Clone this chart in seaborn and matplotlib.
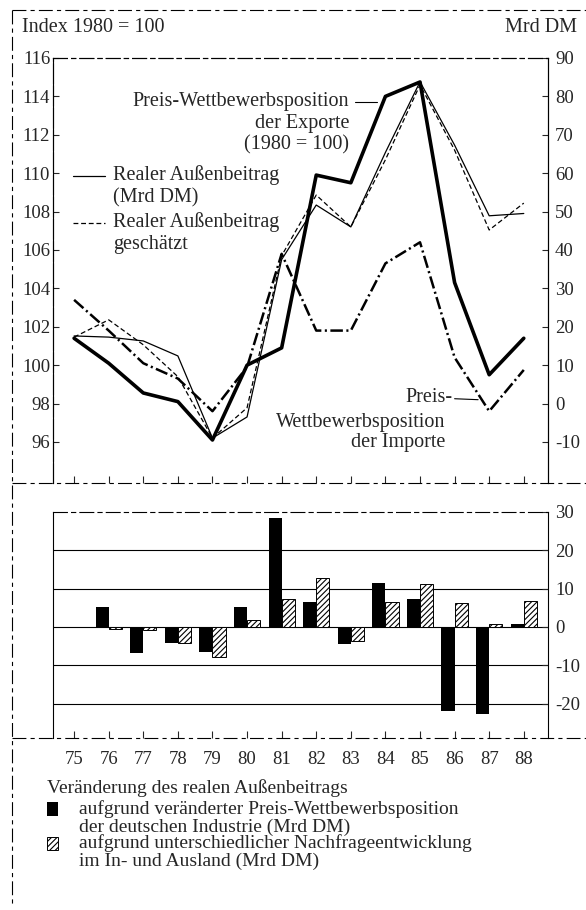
import numpy as np
import pandas as pd
import matplotlib.pyplot as plt
import matplotlib.lines as mlines
import matplotlib.patches as mpatches
import seaborn as sns

# Jahre 1975-1988
years = list(range(75, 89))
year_labels = [str(y) for y in years]

# Index 1980 = 100 (linke Achse)
exporte = [101.4, 100.1, 98.55, 98.1, 96.1, 100.0, 100.9, 109.9, 109.5, 114.0, 114.75, 104.3, 99.5, 101.4]
importe = [103.4, 101.8, 100.1, 99.3, 97.6, 99.9, 105.8, 101.8, 101.8, 105.3, 106.4, 100.4, 97.6, 99.75]

# Mrd DM (rechte Achse)
aussenbeitrag = [17.6, 17.3, 16.3, 12.4, -9.0, -3.5, 37.5, 51.7, 46.0, 65.4, 83.8, 67.3, 48.9, 49.5]
geschaetzt = [17.3, 21.8, 15.3, 7.0, -9.0, -1.1, 38.5, 54.3, 46.0, 63.5, 83.0, 66.0, 45.2, 52.2]

# Veraenderung des realen Aussenbeitrags (Mrd DM)
preis_effekt = [0, 5.2, -6.8, -4.3, -6.5, 5.2, 28.5, 6.5, -4.4, 11.4, 7.3, -22.0, -22.8, 0.7]
nachfrage_effekt = [0, -0.5, -0.9, -4.3, -7.8, 1.8, 7.3, 12.8, -3.6, 6.5, 11.2, 6.3, 0.8, 6.8]

sns.set_style("white")
plt.rcParams["font.family"] = ["Liberation Serif", "DejaVu Serif"]
plt.rcParams["axes.unicode_minus"] = False
plt.rcParams["hatch.linewidth"] = 0.8
plt.rcParams["lines.scale_dashes"] = False

W, H = 586, 910
fig = plt.figure(figsize=(W / 100, H / 100), dpi=100)


def fx(px):
    return px / W


def fy(py):
    return 1 - py / H


TXT = 14.5
TICK = 13.5
LEG = 14
frame_style = (0, (10, 3, 3, 3))

# ---------------- oberes Diagramm ----------------
ax = fig.add_axes([fx(53), fy(483), fx(548) - fx(53), fy(58) - fy(483)])
ax2 = ax.twinx()

sns.lineplot(x=years, y=exporte, ax=ax, color="black", lw=2.6)
sns.lineplot(x=years, y=importe, ax=ax, color="black", lw=1.8, linestyle=(0, (9, 2.5, 1.5, 2.5)))
sns.lineplot(x=years, y=aussenbeitrag, ax=ax2, color="black", lw=0.9)
sns.lineplot(x=years, y=geschaetzt, ax=ax2, color="black", lw=0.9, linestyle=(0, (3.5, 2)))

ax.set_xlim(74.39, 88.70)
ax.set_ylim(93.86, 116)
ax2.set_ylim(-20.7, 90)
ax.set_yticks(range(96, 117, 2))
ax2.set_yticks(range(-10, 91, 10))
ax.set_xticks(years)
ax.set_xticklabels([])
ax.set_xlabel("")
ax.set_ylabel("")
ax2.set_ylabel("")
ax.tick_params(axis="y", direction="in", length=4, width=0.8, pad=2, labelsize=TICK, left=True)
ax.tick_params(axis="x", direction="in", length=5, width=0.8, bottom=True)
ax2.tick_params(axis="y", direction="in", length=4, width=0.8, pad=5, labelsize=TICK, right=True)
for a in (ax, ax2):
    a.spines["bottom"].set_visible(False)
    a.spines["top"].set_linestyle(frame_style)
    a.spines["top"].set_linewidth(0.8)
    a.spines["left"].set_linewidth(0.8)
    a.spines["right"].set_linewidth(0.8)
    for s in a.spines.values():
        s.set_color("black")
ax.spines["left"].set_linestyle((0, (14, 2)))

# Beschriftungen im Diagramm
ax.text(82.95, 112.6, "Preis-Wettbewerbsposition\nder Exporte\n(1980 = 100)",
        ha="right", va="center", multialignment="right", fontsize=TXT, linespacing=1.2)
ax.plot([83.12, 83.76], [113.7, 113.7], color="black", lw=0.8)

ax.plot([74.97, 75.9], [109.85, 109.85], color="black", lw=0.9)
ax.text(76.13, 109.33, "Realer Außenbeitrag\n(Mrd DM)", ha="left", va="center",
        fontsize=TXT, linespacing=1.2)
ax.plot([74.97, 75.9], [107.4, 107.4], color="black", lw=0.9, linestyle=(0, (3.5, 2)))
ax.text(76.13, 106.88, "Realer Außenbeitrag\ngeschätzt", ha="left", va="center",
        fontsize=TXT, linespacing=1.2)

ax.text(85.95, 98.3, "Preis-", ha="right", va="center", fontsize=TXT)
ax.plot([86.0, 86.68], [98.25, 98.2], color="black", lw=0.8)
ax.text(85.72, 96.5, "Wettbewerbsposition\nder Importe", ha="right", va="center",
        multialignment="right", fontsize=TXT, linespacing=1.05)

fig.text(fx(22), fy(28), "Index 1980 = 100", ha="left", va="center", fontsize=TXT)
fig.text(fx(577), fy(28), "Mrd DM", ha="right", va="center", fontsize=TXT)

# ---------------- unteres Diagramm ----------------
bx = fig.add_axes([fx(53), fy(738), fx(548) - fx(53), fy(512) - fy(738)])

df = pd.DataFrame({
    "Jahr": year_labels * 2,
    "Wert": preis_effekt + nachfrage_effekt,
    "Art": ["Preis"] * len(years) + ["Nachfrage"] * len(years),
})
sns.barplot(data=df, x="Jahr", y="Wert", hue="Art", order=year_labels,
            hue_order=["Preis", "Nachfrage"], palette={"Preis": "black", "Nachfrage": "white"},
            width=0.76, legend=False, ax=bx, zorder=2)
for bar in bx.containers[0]:
    bar.set_linewidth(0)
for bar in bx.containers[1]:
    bar.set_hatch("//////")
    bar.set_edgecolor("black")
    bar.set_linewidth(0.7)

for v in [-20, -10, 0, 10, 20]:
    bx.axhline(v, color="black", lw=0.8, zorder=0.5)

bx.set_xlim(-0.61, 13.70)
bx.set_ylim(-29, 30)
bx.set_xlabel("")
bx.set_ylabel("")
bx.yaxis.tick_right()
bx.set_yticks(range(-20, 31, 10))
bx.tick_params(axis="y", direction="in", length=4, width=0.8, pad=5, labelsize=TICK, right=True, left=False)
bx.tick_params(axis="x", direction="in", length=5, width=0.8, pad=9, labelsize=TICK, bottom=True)
bx.spines["bottom"].set_visible(False)
bx.spines["top"].set_linestyle(frame_style)
for s in bx.spines.values():
    s.set_color("black")
    s.set_linewidth(0.8)

# Rahmenlinien der Seite
frame_kw = dict(transform=fig.transFigure, color="black", lw=0.8, linestyle=frame_style)
fig.add_artist(mlines.Line2D([fx(12), fx(12)], [fy(10), fy(905)], **frame_kw))
fig.add_artist(mlines.Line2D([fx(12), 1], [fy(10), fy(10)], **frame_kw))
fig.add_artist(mlines.Line2D([fx(12), 1], [fy(483), fy(483)], **frame_kw))
fig.add_artist(mlines.Line2D([fx(12), 1], [fy(738), fy(738)], **frame_kw))

# Legende
fig.text(fx(47), fy(788), "Veränderung des realen Außenbeitrags", ha="left", va="center", fontsize=LEG)
fig.add_artist(mpatches.Rectangle((fx(47), fy(816)), fx(11), fy(0) - fy(14),
                                  transform=fig.transFigure, facecolor="black", edgecolor="none"))
fig.text(fx(79), fy(818), "aufgrund veränderter Preis-Wettbewerbsposition\nder deutschen Industrie (Mrd DM)",
         ha="left", va="center", fontsize=LEG, linespacing=1.05)
fig.add_artist(mpatches.Rectangle((fx(47), fy(850)), fx(11), fy(0) - fy(13),
                                  transform=fig.transFigure, facecolor="white", edgecolor="black",
                                  hatch="//////", lw=0.7))
fig.text(fx(79), fy(852), "aufgrund unterschiedlicher Nachfrageentwicklung\nim In- und Ausland (Mrd DM)",
         ha="left", va="center", fontsize=LEG, linespacing=1.05)

fig.savefig("out.png", dpi=100)
